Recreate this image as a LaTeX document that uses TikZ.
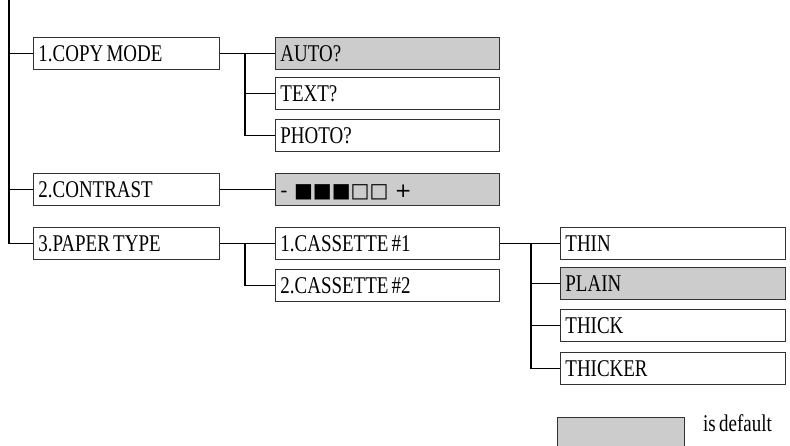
\documentclass[tikz,border=0pt]{standalone}
\usepackage{fontspec}
\newfontfamily\mfont[FakeStretch=0.79,WordSpace=0.7]{Liberation Serif}
\newfontfamily\sfont{DejaVu Sans}
\definecolor{dfill}{RGB}{204,204,204}
\definecolor{bline}{RGB}{50,50,50}
\tikzset{
  mbox/.style={draw=bline, line width=0.9pt, anchor=north west, inner xsep=5pt, inner ysep=0pt,
    text height=24pt, text depth=8pt, text width=#1pt, align=flush left,
    font=\mfont\fontsize{24}{24}\selectfont},
  dbox/.style={fill=dfill},
  conn/.style={draw=black, line width=1.4pt}
}
\begin{document}
\begin{tikzpicture}[x=1pt,y=-1pt]
\useasboundingbox (0,0) rectangle (790,445);
% level 1
\node[mbox=176] (copy) at (33,37) {1.COPY MODE};
\node[mbox=176] (contrast) at (33,173) {2.CONTRAST};
\node[mbox=176] (ptype) at (33,227) {3.PAPER TYPE};
% level 2
\node[mbox=214, dbox] (auto) at (275,37) {AUTO?};
\node[mbox=214] (text) at (275,77) {TEXT?};
\node[mbox=214] (photo) at (275,119) {PHOTO?};
\node[mbox=214, dbox, font=\sfont\fontsize{20}{20}\selectfont] (cbar) at (275,173) {- ■■■□□ +};
\node[mbox=214] (cas1) at (275,227) {1.CASSETTE \#1};
\node[mbox=214] (cas2) at (275,269) {2.CASSETTE \#2};
% level 3
\node[mbox=215] (thin) at (560,227) {THIN};
\node[mbox=215, dbox] (plain) at (560,267) {PLAIN};
\node[mbox=215] (thick) at (560,309) {THICK};
\node[mbox=215] (thicker) at (560,352) {THICKER};
% legend
\node[draw=bline, line width=0.9pt, dbox, anchor=north west, minimum width=127pt, minimum height=32pt, inner sep=0pt] (legend) at (557,417) {};
\node[anchor=base west, inner sep=0pt, font=\mfont\fontsize{24}{24}\selectfont] (isdef) at (703,431) {is default};
% connectors
\coordinate (trunk) at (9,0);
\coordinate (b1) at (245,53);
\coordinate (b2) at (245,243);
\coordinate (b3) at (531,243);
\draw[conn] (trunk) |- (ptype.west);
\draw[conn] (copy.west) -- (copy.west -| trunk);
\draw[conn] (contrast.west) -- (contrast.west -| trunk);
\draw[conn] (copy.east) -- (auto.west);
\draw[conn] (b1) |- (photo.west);
\draw[conn] (text.west -| b1) -- (text.west);
\draw[conn] (contrast.east) -- (cbar.west);
\draw[conn] (ptype.east) -- (cas1.west);
\draw[conn] (b2) |- (cas2.west);
\draw[conn] (cas1.east) -- (thin.west);
\draw[conn] (b3) |- (thicker.west);
\draw[conn] (plain.west -| b3) -- (plain.west);
\draw[conn] (thick.west -| b3) -- (thick.west);
\end{tikzpicture}
\end{document}
